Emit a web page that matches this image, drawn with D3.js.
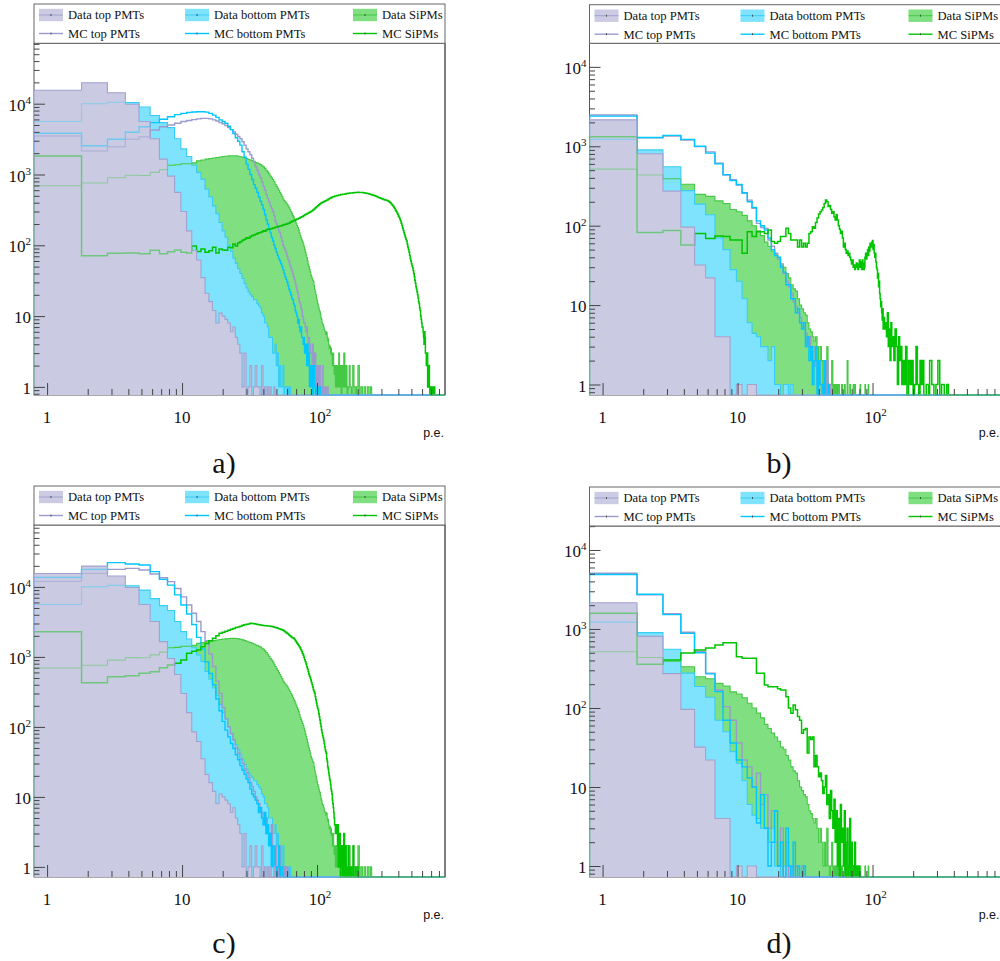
<!DOCTYPE html>
<html><head><meta charset="utf-8">
<script src="https://cdn.jsdelivr.net/npm/d3@7"></script>
<style>body{margin:0;background:#fff}svg{display:block}</style>
</head><body>
<svg id="c" width="1000" height="961"></svg>
<script>
// ---------------- DATA (bins of 1 p.e.: bin k spans [k-0.2, k+0.8]) ----------------
const legendLabels = ["Data top PMTs","Data bottom PMTs","Data SiPMs","MC top PMTs","MC bottom PMTs","MC SiPMs"];
const xMajorTicks = [1, 10, 100];
const yMajorTicks = [1, 10, 100, 1000, 10000];

// data, panels a) and c)
const acDataTop = [15500,19800,14300,9800,5600,3200,1650,950,560,300,160,85,62,35,21,16,12,8,11,10,9,8,6,7,5,4,3,1,3,0,1,2,0,1,2,1,1,0,2,0,1,0,1,0,1,0,0,1];
const acDataBottom = [5600,10000,10500,10400,9000,6800,5400,4600,3200,2300,1800,1350,1070,860,620,480,360,280,210,160,130,100,82,66,56,47,40,34,29,25,22,20,19,17,17,15,14,13,11,10,8,8,7,5,5,5,3,3,4,2,3,1,2,1,1,2,0,1,1,0,1,0,1];
const acDataSipm = [695,760,900,975,970,1070,1170,1350,1370,1420,
 1420,1460,1560,1600,1650,1680,1710,1740,1770,1800,
 1810,1830,1840,1840,1830,1810,1780,1750,1710,1670,
 1630,1600,1570,1530,1480,1450,1420,1380,1330,1280,
 1220,1150,1090,1020,950,900,850,790,730,680,
 640,600,560,525,490,450,430,410,395,380,
 360,340,320,300,285,265,250,235,220,205,
 190,178,165,150,137,128,120,112,105,96,
 88,80,73,67,60,54,50,46,42,38,
 36,34,32,31,27,24,22,20,18,16.5,
 15,14,13,12,11.5,10.5,9.5,9,8,7.8,
 7.5,7,6.5,6.2,6,5.5,6,5.8,5,4.5,
 4.8,4,3.5,3.8,3.7,3,3.5,2.8,3,2,
 3,3,2,1.5,2,1.5,1,2,1,1];
const acDataSipmTail = [[140.8,2],[142.8,1],[144.8,3],[146.8,1],[148.8,2],[150.8,0],[152.8,2],[154.8,1],[157.8,3],[160.8,1],[163.8,2],[166.8,0],[169.8,1],[172.8,2],[175.8,1],[179.8,0],[183.8,2],[187.8,1],[191.8,0],[195.8,1],[200.8,2],[205.8,0],[210.8,1],[216.8,0],[222.8,1],[228.8,0],[235.8,1],[242.8,0],[248.8,1],[253.8,0]];

// MC, panel a)
const aMcTop = [3500,2150,2470,3140,3420,4250,4730,5000,5300,5600,
 5800,5950,6100,6200,6200,6100,5900,5700,5400,5200,
 4900,4600,4300,4000,3700,3450,3200,2900,2600,2300,
 2100,1900,1700,1500,1300,1150,1000,900,780,680,
 600,520,460,410,360,330,300,260,220,200,
 180,160,150,130,115,100,92,85,78,70,
 63,58,52,48,44,40,36,33,29,26,
 23,21,18,16,15,13,12,10,9,8,
 8,7,6,7,5,4,5,3,4,3,
 3,2,4,3,2,2,3,1,2,2,
 1,2,1,0,2,1,1,0,1,2,0,1,0,1,1,0,0,1,0,1];
const aMcBottom = [3820,2550,3140,3950,4730,5400,6020,6550,7000,7300,
 7500,7650,7700,7700,7600,7300,6900,6400,5900,5600,
 5300,4800,4300,3800,3300,2950,2600,2100,1750,1400,
 1180,1000,850,720,640,560,480,420,370,320,
 270,230,200,170,150,130,115,100,90,80,
 72,65,60,55,50,45,40,36,33,30,
 27,24,22,20,18,17,15,14,12,11,
 10,8,9,7,6,7,5,5,4,5,
 3,4,3,2,4,2,3,1,2,2,
 1,2,0,1,2,1,0,1,0,0,1,0,0,0,1,0];
const aMcSipm = [1825,71,77,78,76,85,76,81,86,80,
 78,98,82,89,80,84,94,78,89,86,
 85,94,92,104,98,108,112,118,122,128,
 126,133,137,140,143,147,150,152,156,160,158,165];
const aMcSipmTail = [[42.8,168],[44.8,171],[46.8,176],[48.8,180],[50.8,184],[52.8,188],[54.8,192],[56.8,196],[58.8,200],[60.8,205],[62.8,212],[64.8,218],[66.8,224],[68.8,230],[70.8,236],[72.8,242],[74.8,248],[76.8,254],[78.8,262],[80.8,270],[82.8,276],[84.8,283],[86.8,290],[88.8,298],[90.8,306],[92.8,316],[94.8,326],[96.8,338],[98.8,350],[100.8,362],[102.8,374],[104.8,386],[106.8,396],[108.8,405],[111.8,415],[114.8,426],[117.8,438],[120.8,450],[123.8,462],[126.8,474],[129.8,485],[134.8,496],[139.8,505],[144.8,513],[149.8,520],[154.8,526],[159.8,532],[164.8,537],[169.8,542],[174.8,546],[179.8,550],[184.8,553],[189.8,556],[194.8,558],[199.8,560],[204.8,559],[209.8,558],[214.8,555],[219.8,552],[224.8,548],[229.8,545],[234.8,540],[239.8,535],[244.8,528],[249.8,520],[254.8,514],[259.8,508],[264.8,502],[269.8,495],[274.8,488],[279.8,480],[284.8,474],[289.8,468],[294.8,462],[299.8,455],[304.8,450],[309.8,445],[314.8,441],[319.8,438],[324.8,434],[329.8,430],[334.8,423],[339.8,415],[344.8,405],[349.8,395],[354.8,383],[359.8,370],[364.8,358],[369.8,345],[374.8,330],[379.8,315],[384.8,302],[389.8,290],[394.8,275],[399.8,260],[404.8,248],[409.8,235],[414.8,220],[419.8,205],[424.8,190],[429.8,175],[434.8,162],[439.8,150],[444.8,140],[449.8,130],[454.8,122],[459.8,115],[464.8,104],[469.8,95],[474.8,87],[479.8,80],[484.8,72],[489.8,65],[494.8,60],[499.8,55],[504.8,51],[509.8,48],[514.8,44],[519.8,40],[524.8,36],[529.8,32],[534.8,29],[539.8,26],[544.8,24],[549.8,22],[554.8,20],[559.8,18],[564.8,16],[569.8,15],[574.8,13],[579.8,12],[584.8,10],[589.8,9],[594.8,8],[599.8,7],[604.8,7],[609.8,6],[614.8,5],[619.8,4],[624.8,6],[629.8,5],[634.8,3],[639.8,3],[644.8,2],[649.8,2],[654.8,3],[659.8,1],[664.8,2],[669.8,1],[674.8,2],[679.8,1],[684.8,0],[689.8,1],[694.8,0],[699.8,1],[709.8,0],[719.8,1],[724.8,0],[739.8,1],[744.8,0]];

// MC, panel c)
const cMcTop = [12000,15600,17800,18400,17400,15300,13500,11900,9500,7200,5500,4200,3200,2300,1700,1100,730,450,300,190,130,100,80,65,50,42,35,30,25,22,19,16,14,12,10,9,8,7,6,5,4,5,3,3,2,4,2,1,2,1,0,1,2,0,1,1,0,1,0,1];
const cMcBottom = [13700,17800,22200,21200,20500,16500,12800,10600,7700,5500,4100,2900,1900,1300,850,580,400,250,170,120,90,72,58,49,40,34,28,24,21,18,16,13,11,10,9,8,6,7,5,4,6,3,4,2,3,1,2,2,1,0,1,2,0,1,1,0];
const cMcSipm = [2290,427,521,540,582,615,701,766,809,904,
 1125,1200,1253,1400,1550,1700,1850,2000,2170,2250,
 2330,2400,2480,2550,2620,2680,2750,2830,2880,2920,
 2960,3020,3000,2980,2960,2900,2880,2860,2830,2800,
 2790,2780,2770,2760,2750,2720,2690,2650,2620,2600,
 2560,2530,2500,2470,2440,2400,2340,2280,2220,2170,
 2120,2060,2000,1950,1900,1870,1840,1780,1720,1650,
 1580,1520,1460,1400,1340,1260,1190,1120,1065,990,
 910,850,790,726,670,620,570,530,500,468,
 430,400,370,340,320,302,270,245,220,200,
 185,174,155,140,125,112,101,90,82,75,
 70,65,58,52,47,44,42,35,32,27,
 25,22,20,18,17,15,13,12,11,9,
 8,7,6,5,4,4,3,3,4,3];
const cMcSipmTail = [[140.8,3],[141.8,2],[142.8,4],[143.8,1],[144.8,3],[145.8,2],[146.8,1],[147.8,3],[148.8,0],[149.8,2],[150.8,1],[152.8,2],[154.8,0],[155.8,1],[157.8,3],[158.8,0],[160.8,1],[162.8,2],[163.8,0],[165.8,1],[167.8,0],[170.8,2],[171.8,0],[174.8,1],[175.8,0],[179.8,1],[180.8,0],[185.8,2],[186.8,0],[192.8,1],[193.8,0],[200.8,1],[201.8,0]];

// data, panels b) and d)
const bdDataTop = [2150,805,272,96,32,22,4,4,0,1,0,1,1];
const bdDataBottom = [1220,900,553,276,187,137,70,50,28,20,12,6,4.4,4,3,3,2,3,1,1,0,1,1,0,1];
const bdDataSipm = [515,435,390,333,248,234,205,190,160,150,
 135,115,100,86,75,62,55,48,43,38,
 32,30,25,22,18,16,15,12,10,9,
 8,7.5,6,5,4.6,4,3.5,4,3,2,
 3,2,1,2,1,3,1,0,1,2,
 0,1,0,1,0,1,0,0,1,0,
 0,1,0,0,2,0,0,1,0,0,
 0,1,0,1,0,0,0,0,0,0,
 1,0,0,0,0,0,0,1,0,0,
 0,0,1];

// MC, panel b)
const bMcTop = [2480,1280,1346,1200,989,851,611,434,380,325,255,210,165,107,95,92,66,55,45,38,33,25,20,17,14,11,9.5,8,7,6,5.3,4.4,3,4,2,3,1.7,2,1,2,1,0,1,1,0,2,0,1,0];
const bMcBottom = [2400,1290,1370,1220,1000,820,600,440,370,330,260,200,170,115,100,88,70,50,42,40,30,26,18,18,12,12,8,9,6,5,6,3,4,2,3,1,2,3,0,2,1,1,0,2,0,0,1];
const bMcSipm = [1320,82,87,57,80,69,74,73,66,66,
 45,84,73,84,84,80,88,63,60,63,
 73,73,93,80,66,66,66,54,66,54,
 60,54,60,80,84,97,93,110,125,140,
 150,158,170,190,210,200,174,180,160,143,
 150,130,118,137,118,100,90,80,85,70,
 54,60,50,45,48,42,45,40,37,33,
 37,30,32,28,30,34,30,28,33,37,
 30,35,28,37,34,28,30,40,45,38,
 45,50,42,54,48,60,55,54,62,65,
 50,58,45,40,45,35,30,28,22,25,
 17,20,14,12,9.5,11,8,6.5,9,5];
const bMcSipmTail = [[120.8,7],[122.8,5],[124.8,6],[126.8,4],[128.8,8],[130.8,3],[132.8,5],[134.8,2],[136.8,6],[138.8,3],[140.8,4],[143.8,2],[146.8,5],[149.8,3],[152.8,1],[155.8,4],[158.8,2],[161.8,3],[164.8,1],[167.8,2],[171.8,1],[175.8,3],[179.8,0],[184.8,2],[189.8,1],[194.8,2],[199.8,0],[204.8,1],[209.8,3],[214.8,1],[219.8,0],[224.8,2],[229.8,1],[234.8,2],[239.8,0],[249.8,1],[259.8,0],[264.8,2],[274.8,1],[284.8,0],[294.8,1],[304.8,2],[314.8,0],[324.8,1],[339.8,0],[354.8,1],[364.8,0]];

// MC, panel d)
const dMcTop = [5070,2700,1560,910,520,275,169,104,70,36,22,18,10,15,6,8,3,5,2,1,3,0,2,0,1,0,1,0,0,1];
const dMcBottom = [4900,2750,1520,880,500,270,161,70,36,22,18,13,10,3.5,8,3,1,2,5,1,2,0,3,1,0,2,0,1,0,0,1];
const dMcSipm = [1580,357,406,495,542,575,627,671,671,446,
 425,425,425,275,275,196,186,186,186,175,
 169,169,139,100,86,109,95,78,70,48,
 53,55,27,43,40,43,18,25,18,13.5,
 15,12,8.3,10,14,6,8,4,9,5,
 3,7,2,5,1,4,0,6,2,3,
 1,5,0,2,3,0,1,4,0,2,
 1,0,1,2,0,1,0,0,1,0];

// ---------------- LAYOUT / STYLE ----------------
const X_DOMAIN = [0.8, 887];
const SERIF = "'Liberation Serif','Times New Roman',serif";
const COL = {
  lavFill:'#cbcbe3', lavLine:'#a2a2d0',
  cyFill:'#80e3fd', cyLine:'#38cdf5',
  grFill:'#80df80', grLine:'#45c845',
  mcTop:'#9a9acc', mcBot:'#00c6ff', mcSipm:'#00c400', axis:'#444'
};
const panels = [
  {key:'a', x0:34, x1:445, legTop:4, top:43.3, bottom:395, yDom:[0.7685,71300], label:'a)', lx:224, ly:473,
   dTop:[acDataTop], dBot:[acDataBottom], dSipm:[acDataSipm, acDataSipmTail], mTop:[aMcTop], mBot:[aMcBottom], mSipm:[aMcSipm, aMcSipmTail]},
  {key:'b', x0:589.5, x1:1000.5, legTop:4.7, top:43.3, bottom:395, yDom:[0.7376,19800], label:'b)', lx:779, ly:473,
   dTop:[bdDataTop], dBot:[bdDataBottom], dSipm:[bdDataSipm], mTop:[bMcTop], mBot:[bMcBottom], mSipm:[bMcSipm, bMcSipmTail]},
  {key:'c', x0:34, x1:445, legTop:486, top:525, bottom:877, yDom:[0.7173,76600], label:'c)', lx:224, ly:953,
   dTop:[acDataTop], dBot:[acDataBottom], dSipm:[acDataSipm, acDataSipmTail], mTop:[cMcTop], mBot:[cMcBottom], mSipm:[cMcSipm, cMcSipmTail]},
  {key:'d', x0:589.5, x1:1000.5, legTop:487, top:526, bottom:877, yDom:[0.726,20100], label:'d)', lx:779, ly:953,
   dTop:[bdDataTop], dBot:[bdDataBottom], dSipm:[bdDataSipm], mTop:[dMcTop], mBot:[dMcBottom], mSipm:[dMcSipm]}
];

const svg = d3.select('#c');
const defs = svg.append('defs');

function steps(vals, tail){
  const pts = [[0.8, 0]];
  vals.forEach((v,i)=>pts.push([0.8+i, v]));
  let last = 0.8 + vals.length;
  if (tail && tail.length){ tail.forEach(p=>pts.push(p)); last = tail[tail.length-1][0] + 1; }
  pts.push([last, 0]);
  pts.push([X_DOMAIN[1], 0]);
  return pts;
}

function drawPanel(p){
  const g = svg.append('g');
  const x = d3.scaleLog().domain(X_DOMAIN).range([p.x0, p.x1]);
  const y = d3.scaleLog().domain(p.yDom).range([p.bottom, p.top]);
  const ymin = p.yDom[0];
  const yv = v => y(Math.max(v, ymin));
  const clipId = 'clip' + p.key;
  defs.append('clipPath').attr('id', clipId).append('rect')
    .attr('x', p.x0).attr('y', p.top).attr('width', p.x1-p.x0).attr('height', p.bottom-p.top+0.8);

  g.append('rect').attr('x',p.x0).attr('y',p.top).attr('width',p.x1-p.x0).attr('height',p.bottom-p.top)
    .attr('fill','#fff').attr('stroke','#555').attr('stroke-width',1);

  const plot = g.append('g').attr('clip-path', `url(#${clipId})`);
  const line = d3.line().x(d=>x(d[0])).y(d=>yv(d[1])).curve(d3.curveStepAfter);
  const area = d3.area().x(d=>x(d[0])).y0(p.bottom).y1(d=>yv(d[1])).curve(d3.curveStepAfter);

  const sTop = steps(...p.dTop), sBot = steps(...p.dBot), sSipm = steps(...p.dSipm);
  const mTop = steps(...p.mTop), mBot = steps(...p.mBot), mSipm = steps(...p.mSipm);

  plot.append('path').attr('d', area(sSipm)).attr('fill', COL.grFill);
  plot.append('path').attr('d', area(sBot)).attr('fill', COL.cyFill);
  plot.append('path').attr('d', area(sTop)).attr('fill', COL.lavFill);

  plot.append('path').attr('d', line(sSipm)).attr('fill','none').attr('stroke',COL.grLine).attr('stroke-width',1.1);
  plot.append('path').attr('d', line(sBot)).attr('fill','none').attr('stroke',COL.cyLine).attr('stroke-width',1.1);
  plot.append('path').attr('d', line(mTop)).attr('fill','none').attr('stroke',COL.mcTop).attr('stroke-width',1.4);
  plot.append('path').attr('d', line(mBot)).attr('fill','none').attr('stroke',COL.mcBot).attr('stroke-width',1.4);
  plot.append('path').attr('d', line(mSipm)).attr('fill','none').attr('stroke',COL.mcSipm).attr('stroke-width',1.5);

  // lines lying inside the top-PMT data fill look muted
  plot.append('path').attr('d', area(sTop)).attr('fill', COL.lavFill).attr('opacity', 0.55);
  plot.append('path').attr('d', line(sTop)).attr('fill','none').attr('stroke',COL.lavLine).attr('stroke-width',1.1);

  // axes (ticks inward)
  const yMinor = [];
  for (let e=-1; e<=5; e++) for (let m=2; m<=9; m++){ const v = m*Math.pow(10,e); if (v>=p.yDom[0] && v<=p.yDom[1]) yMinor.push(v); }
  const yMaj = yMajorTicks.filter(v=>v>=p.yDom[0] && v<=p.yDom[1]);
  const styleAxis = sel => { sel.select('.domain').remove(); sel.selectAll('line').attr('stroke',COL.axis).attr('stroke-width',1); sel.selectAll('text').remove(); };
  g.append('g').attr('transform',`translate(${p.x0},0)`).call(d3.axisLeft(y).tickValues(yMaj).tickSize(-11).tickFormat('')).call(styleAxis);
  g.append('g').attr('transform',`translate(${p.x0},0)`).call(d3.axisLeft(y).tickValues(yMinor).tickSize(-5.5).tickFormat('')).call(styleAxis);
  const xMinor = [];
  for (let e=0; e<=2; e++) for (let m=2; m<=9; m++){ const v=m*Math.pow(10,e); if (v<=X_DOMAIN[1]) xMinor.push(v); }
  g.append('g').attr('transform',`translate(0,${p.bottom})`).call(d3.axisBottom(x).tickValues(xMajorTicks).tickSize(-12).tickFormat('')).call(styleAxis);
  g.append('g').attr('transform',`translate(0,${p.bottom})`).call(d3.axisBottom(x).tickValues(xMinor).tickSize(-6).tickFormat('')).call(styleAxis);
  g.append('line').attr('x1',p.x1).attr('x2',p.x1).attr('y1',p.top).attr('y2',p.bottom).attr('stroke','#555');

  // tick labels
  const powLabel = (sel, v) => {
    const e = Math.round(Math.log10(v));
    if (e === 0) sel.text('1');
    else if (e === 1) sel.text('10');
    else { sel.append('tspan').text('10'); sel.append('tspan').attr('dy',-7).attr('font-size',11).text(e); }
  };
  yMaj.forEach(v=>{
    const t = g.append('text').attr('x', p.x0-3).attr('y', y(v)+7).attr('text-anchor','end')
      .attr('font-family',SERIF).attr('font-size',17).attr('fill','#111');
    powLabel(t, v);
  });
  xMajorTicks.forEach(v=>{
    const t = g.append('text').attr('x', x(v)+(v>=100?3:0)).attr('y', p.bottom+28).attr('text-anchor','middle')
      .attr('font-family',SERIF).attr('font-size',17).attr('fill','#111');
    powLabel(t, v);
  });
  g.append('text').attr('x', p.x1-1).attr('y', p.bottom+42).attr('text-anchor','end')
    .attr('font-family',"'Liberation Sans',Arial,sans-serif").attr('font-size',12.5).attr('fill','#111').text('p.e.');

  // legend
  const L = g.append('g');
  L.append('rect').attr('x',p.x0).attr('y',p.legTop).attr('width',p.x1-p.x0).attr('height',p.top-p.legTop)
    .attr('fill','#fff').attr('stroke','#666').attr('stroke-width',1);
  const colX = [5, 151, 319];
  const rowY = [11, 29.5];
  const fills = [COL.lavFill, COL.cyFill, COL.grFill];
  const dLines = [COL.lavLine, COL.cyLine, COL.grLine];
  const mLines = [COL.mcTop, COL.mcBot, COL.mcSipm];
  legendLabels.forEach((lab,i)=>{
    const col = i%3, row = Math.floor(i/3);
    const sx = p.x0 + colX[col], cy = p.legTop + rowY[row];
    if (row === 0){
      L.append('rect').attr('x',sx).attr('y',cy-6.2).attr('width',24).attr('height',12.4).attr('fill',fills[col]);
      L.append('line').attr('x1',sx).attr('x2',sx+24).attr('y1',cy).attr('y2',cy).attr('stroke',dLines[col]).attr('stroke-width',1);
    } else {
      L.append('line').attr('x1',sx).attr('x2',sx+24).attr('y1',cy).attr('y2',cy).attr('stroke',mLines[col]).attr('stroke-width',1.4);
    }
    L.append('line').attr('x1',sx+12).attr('x2',sx+12).attr('y1',cy-1).attr('y2',cy+1).attr('stroke','#333').attr('stroke-width',0.8);
    L.append('text').attr('x',sx+29).attr('y',cy+4.3).attr('font-family',SERIF).attr('font-size',12.6).attr('fill','#111').text(lab);
  });

  svg.append('text').attr('x',p.lx).attr('y',p.ly).attr('text-anchor','middle')
    .attr('font-family',SERIF).attr('font-size',30).attr('fill','#111').text(p.label);
}
panels.forEach(drawPanel);
</script>
</body></html>
